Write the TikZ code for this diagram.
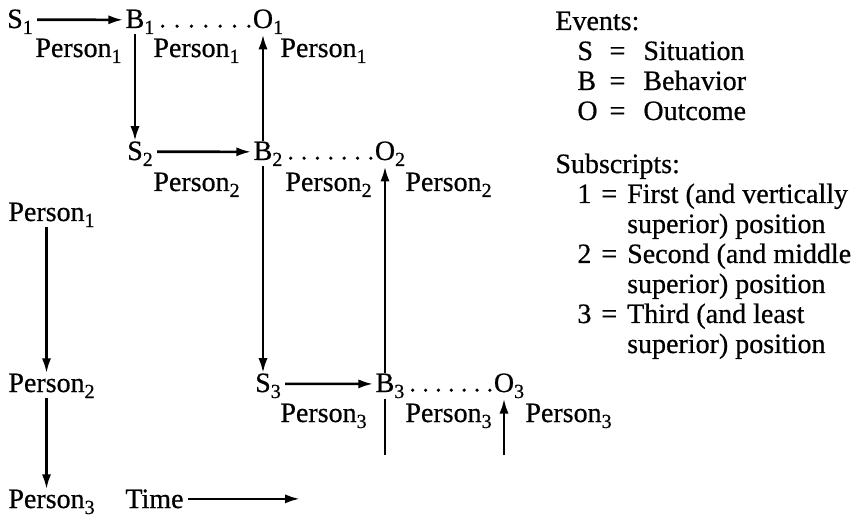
\documentclass[tikz,border=0pt]{standalone}
\usepackage{fontspec}
\setmainfont{Liberation Serif}[FakeBold=0.6]
\usetikzlibrary{arrows.meta,calc}

\newcommand{\sub}[1]{\raisebox{-3pt}{\fontsize{10}{10}\selectfont#1}}
\newcommand{\ev}[2]{#1\rlap{\sub{#2}}}
\newcommand{\who}[1]{Person\sub{#1}}

\begin{document}
\begin{tikzpicture}[x=0.5pt,y=-0.5pt,font=\fontsize{14}{15}\selectfont,
  event/.style={anchor=base,inner sep=0pt},
  role/.style={anchor=base west,inner sep=0pt},
  link/.style={line width=1.3pt,-{Latex[length=7.5pt,width=4.6pt]}},
  bar/.style={line width=1.3pt}]

\useasboundingbox (0,0) rectangle (851,518);

% events, one row per position
\node[event] (S1) at (15,28) {\ev{S}{1}};
\node[event] (B1) at (135,28) {\ev{B}{1}};
\node[event] (O1) at (263,28) {\ev{O}{1}};
\node[event] (S2) at (135,160) {\ev{S}{2}};
\node[event] (B2) at (263,160) {\ev{B}{2}};
\node[event] (O2) at (385,160) {\ev{O}{2}};
\node[event] (S3) at (263,392) {\ev{S}{3}};
\node[event] (B3) at (385,392) {\ev{B}{3}};
\node[event] (O3) at (504,392) {\ev{O}{3}};

% S -> B . . . O
\foreach \i in {1,2,3}{
  \draw[link,shorten <=7pt,shorten >=1pt] ([yshift=1pt]S\i.east) -- ([yshift=1pt]B\i.west);
  \coordinate (d0) at ([xshift=9pt,yshift=0.9pt]B\i.base east);
  \coordinate (d1) at ([xshift=-1.8pt,yshift=0.9pt]O\i.base west);
  \foreach \k in {0,...,6}
    \fill ($(d0)!\k/6!(d1)$) circle (0.9pt);
}

% persons under each row
\node[role] (r1a) at (35,57) {\who{1}};
\node[role] (r1b) at (153,57) {\who{1}};
\node[role] (r1c) at (280,57) {\who{1}};
\node[role] (r2a) at (153,191) {\who{2}};
\node[role] (r2b) at (285,191) {\who{2}};
\node[role] (r2c) at (405,191) {\who{2}};
\node[role] (r3a) at (280,422) {\who{3}};
\node[role] (r3b) at (405,422) {\who{3}};
\node[role] (r3c) at (525,422) {\who{3}};

% links between positions
\draw[link] (B1.south) -- (S2.north);
\draw[link] (B2.north) -- (O1.south);
\draw[link] (B2.south) -- (S3.north);
\draw[link] (B3.north) -- (O2.south);
\coordinate (foot3) at (385,455);
\coordinate (foot4) at (504,455);
\draw[bar] (B3.south) -- (foot3);
\draw[link] (foot4) -- (O3.south);

% hierarchy and time
\node[role] (P1) at (8,221) {\ev{Person}{1}};
\node[role] (P2) at (8,392) {\ev{Person}{2}};
\node[role] (P3) at (8,508) {\ev{Person}{3}};
\draw[link] (P1.south) -- (P2.north);
\draw[link] (P2.south) -- (P3.north);
\node[role] (time) at (125,508) {Time};
\coordinate (later) at (300,0);
\draw[link,shorten <=2pt] (time.east) -- (time.east -| later);

% legend
\node[role] (events) at (555,30) {\begin{tabular}[t]{@{\hspace{11pt}}l@{\hspace{6pt}}l@{\hspace{9pt}}l@{}}
  \multicolumn{3}{@{}l@{}}{Events:}\\
  S & = & Situation\\
  B & = & Behavior\\
  O & = & Outcome
\end{tabular}};
\node[role] (subs) at (555,173) {\begin{tabular}[t]{@{\hspace{11pt}}l@{\hspace{5pt}}l@{\hspace{5pt}}l@{}}
  \multicolumn{3}{@{}l@{}}{Subscripts:}\\
  1 & = & First (and vertically\\
    &   & superior) position\\
  2 & = & Second (and middle\\
    &   & superior) position\\
  3 & = & Third (and least\\
    &   & superior) position
\end{tabular}};

\end{tikzpicture}
\end{document}
